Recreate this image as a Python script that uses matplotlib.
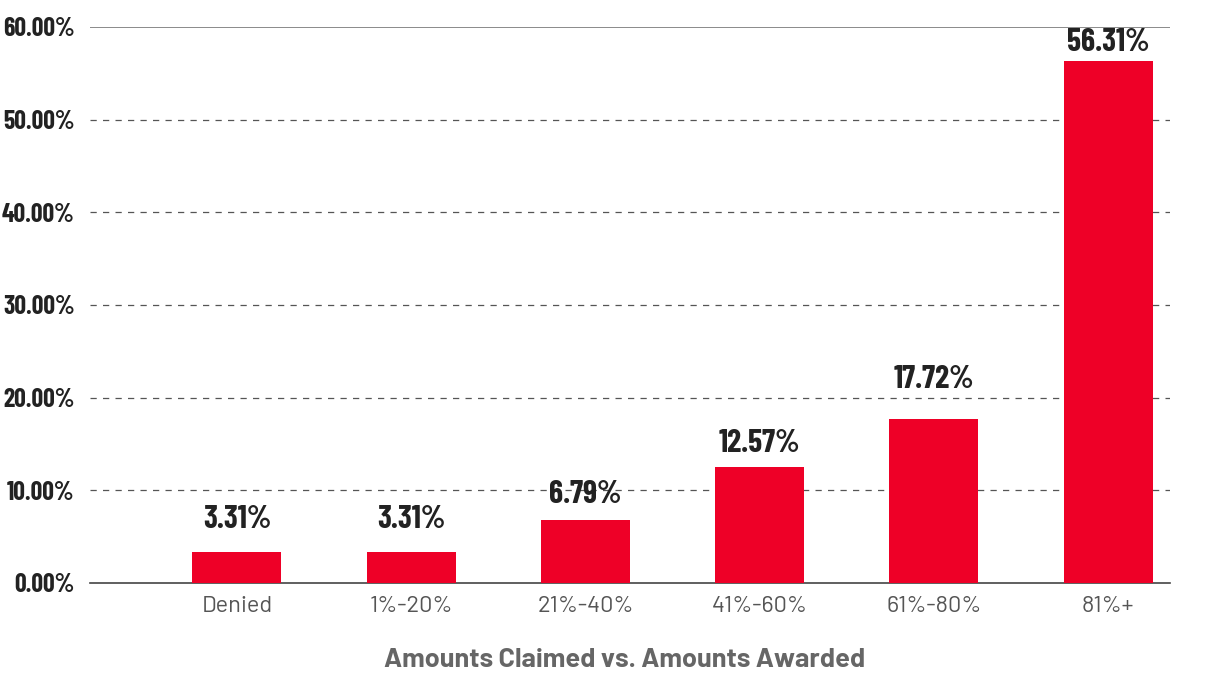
import matplotlib
matplotlib.use("Agg")
import matplotlib.pyplot as plt
import numpy as np

categories = ["Denied", "1%-20%", "21%-40%", "41%-60%", "61%-80%", "81%+"]
values = [3.31, 3.31, 6.79, 12.57, 17.72, 56.31]
yticks = [0, 10, 20, 30, 40, 50, 60]
xlabel = "Amounts Claimed vs. Amounts Awarded"

# style: gap (in points) between bar top and its value label
label_gaps = [13, 13, 8, 6, 18, 3]

num_font = ["Barlow Condensed", "Oswald", "DejaVu Sans"]
txt_font = ["Barlow", "DejaVu Sans"]
red = "#EE0027"

fig = plt.figure(figsize=(12.25, 6.77), dpi=100)
ax = fig.add_axes([90/1225, 1-583/677, (1170-90)/1225, (583-27)/677])

x = np.arange(len(categories))
ax.bar(x, values, width=0.51, color=red, zorder=3)

ax.set_xlim(-0.843, 5.355)
ax.set_ylim(0, 60)
ax.set_yticks(yticks)
ax.set_yticklabels([f"{v:.2f}%" for v in yticks], family=num_font,
                   fontweight="bold", fontsize=18.5, color="#222222")
ax.set_xticks(x)
ax.set_xticklabels(categories, family=txt_font, fontsize=17, color="#555555")
ax.tick_params(axis="both", length=0)
ax.tick_params(axis="y", pad=11)
ax.tick_params(axis="x", pad=9)

for t in yticks[1:-1]:
    ax.axhline(t, color="#555555", lw=0.9, ls=(0, (5, 5)), zorder=1)
ax.axhline(60, color="#777777", lw=1.2, zorder=1)

for s in ["top", "right", "left"]:
    ax.spines[s].set_visible(False)
ax.spines["bottom"].set_color("#444444")
ax.spines["bottom"].set_linewidth(1.2)

for xi, v, g in zip(x, values, label_gaps):
    ax.annotate(f"{v:.2f}%", (xi, v), xytext=(0, g), textcoords="offset points",
                ha="center", va="bottom", family=num_font, fontweight="bold",
                fontsize=23, color="#222222")

fig.text(624.5 / 1225, 1 - 660/677, xlabel, ha="center", va="center",
         family=txt_font, fontsize=19.5, fontweight="bold", color="#666666")

fig.savefig("out.png", dpi=100)
